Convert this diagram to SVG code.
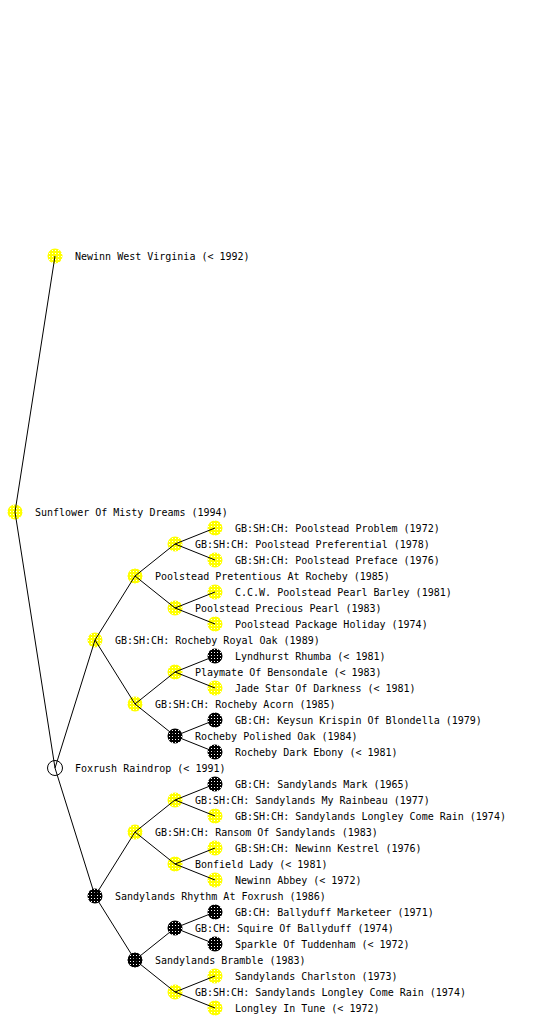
<svg xmlns="http://www.w3.org/2000/svg" width="560" height="1024" viewBox="0 0 560 1024">
<defs>
<pattern id="dy" width="3" height="3" patternUnits="userSpaceOnUse"><rect width="3" height="3" fill="#ffff00"/><rect x="1" y="1" width="1" height="1" fill="#ffffff"/></pattern>
<pattern id="db" width="3" height="3" patternUnits="userSpaceOnUse"><rect width="3" height="3" fill="#000000"/><rect x="1" y="1" width="1" height="1" fill="#ffffff"/></pattern>
<style>
text{font-family:"DejaVu Sans Mono","Liberation Mono",monospace;font-size:10px;fill:#000}
.y{fill:url(#dy)}
.b{fill:url(#db)}
.w{fill:#fff;stroke:#000;stroke-width:1}
.e line{stroke:#000;stroke-width:1}
</style>
</defs>
<rect width="560" height="1024" fill="#fff"/>
<g id="n1"><circle class="y" cx="55" cy="256" r="7.5"/><text x="75" y="260">Newinn West Virginia (&lt; 1992)</text></g>
<g id="n2"><circle class="y" cx="15" cy="512" r="7.5"/><text x="35" y="516">Sunflower Of Misty Dreams (1994)</text></g>
<g id="n3"><circle class="w" cx="55" cy="768" r="7.5"/><text x="75" y="772">Foxrush Raindrop (&lt; 1991)</text></g>
<g id="n4"><circle class="y" cx="95" cy="640" r="7.5"/><text x="115" y="644">GB:SH:CH: Rocheby Royal Oak (1989)</text></g>
<g id="n5"><circle class="b" cx="95" cy="896" r="7.5"/><text x="115" y="900">Sandylands Rhythm At Foxrush (1986)</text></g>
<g id="n6"><circle class="y" cx="135" cy="576" r="7.5"/><text x="155" y="580">Poolstead Pretentious At Rocheby (1985)</text></g>
<g id="n7"><circle class="y" cx="135" cy="704" r="7.5"/><text x="155" y="708">GB:SH:CH: Rocheby Acorn (1985)</text></g>
<g id="n8"><circle class="y" cx="135" cy="832" r="7.5"/><text x="155" y="836">GB:SH:CH: Ransom Of Sandylands (1983)</text></g>
<g id="n9"><circle class="b" cx="135" cy="960" r="7.5"/><text x="155" y="964">Sandylands Bramble (1983)</text></g>
<g id="n10"><circle class="y" cx="175" cy="544" r="7.5"/><text x="195" y="548">GB:SH:CH: Poolstead Preferential (1978)</text></g>
<g id="n11"><circle class="y" cx="175" cy="608" r="7.5"/><text x="195" y="612">Poolstead Precious Pearl (1983)</text></g>
<g id="n12"><circle class="y" cx="175" cy="672" r="7.5"/><text x="195" y="676">Playmate Of Bensondale (&lt; 1983)</text></g>
<g id="n13"><circle class="b" cx="175" cy="736" r="7.5"/><text x="195" y="740">Rocheby Polished Oak (1984)</text></g>
<g id="n14"><circle class="y" cx="175" cy="800" r="7.5"/><text x="195" y="804">GB:SH:CH: Sandylands My Rainbeau (1977)</text></g>
<g id="n15"><circle class="y" cx="175" cy="864" r="7.5"/><text x="195" y="868">Bonfield Lady (&lt; 1981)</text></g>
<g id="n16"><circle class="b" cx="175" cy="928" r="7.5"/><text x="195" y="932">GB:CH: Squire Of Ballyduff (1974)</text></g>
<g id="n17"><circle class="y" cx="175" cy="992" r="7.5"/><text x="195" y="996">GB:SH:CH: Sandylands Longley Come Rain (1974)</text></g>
<g id="n18"><circle class="y" cx="215" cy="528" r="7.5"/><text x="235" y="532">GB:SH:CH: Poolstead Problem (1972)</text></g>
<g id="n19"><circle class="y" cx="215" cy="560" r="7.5"/><text x="235" y="564">GB:SH:CH: Poolstead Preface (1976)</text></g>
<g id="n20"><circle class="y" cx="215" cy="592" r="7.5"/><text x="235" y="596">C.C.W. Poolstead Pearl Barley (1981)</text></g>
<g id="n21"><circle class="y" cx="215" cy="624" r="7.5"/><text x="235" y="628">Poolstead Package Holiday (1974)</text></g>
<g id="n22"><circle class="b" cx="215" cy="656" r="7.5"/><text x="235" y="660">Lyndhurst Rhumba (&lt; 1981)</text></g>
<g id="n23"><circle class="y" cx="215" cy="688" r="7.5"/><text x="235" y="692">Jade Star Of Darkness (&lt; 1981)</text></g>
<g id="n24"><circle class="b" cx="215" cy="720" r="7.5"/><text x="235" y="724">GB:CH: Keysun Krispin Of Blondella (1979)</text></g>
<g id="n25"><circle class="b" cx="215" cy="752" r="7.5"/><text x="235" y="756">Rocheby Dark Ebony (&lt; 1981)</text></g>
<g id="n26"><circle class="b" cx="215" cy="784" r="7.5"/><text x="235" y="788">GB:CH: Sandylands Mark (1965)</text></g>
<g id="n27"><circle class="y" cx="215" cy="816" r="7.5"/><text x="235" y="820">GB:SH:CH: Sandylands Longley Come Rain (1974)</text></g>
<g id="n28"><circle class="y" cx="215" cy="848" r="7.5"/><text x="235" y="852">GB:SH:CH: Newinn Kestrel (1976)</text></g>
<g id="n29"><circle class="y" cx="215" cy="880" r="7.5"/><text x="235" y="884">Newinn Abbey (&lt; 1972)</text></g>
<g id="n30"><circle class="b" cx="215" cy="912" r="7.5"/><text x="235" y="916">GB:CH: Ballyduff Marketeer (1971)</text></g>
<g id="n31"><circle class="b" cx="215" cy="944" r="7.5"/><text x="235" y="948">Sparkle Of Tuddenham (&lt; 1972)</text></g>
<g id="n32"><circle class="y" cx="215" cy="976" r="7.5"/><text x="235" y="980">Sandylands Charlston (1973)</text></g>
<g id="n33"><circle class="y" cx="215" cy="1008" r="7.5"/><text x="235" y="1012">Longley In Tune (&lt; 1972)</text></g>
<g id="connectors" class="e">
<line x1="15" y1="512" x2="55" y2="256"/>
<line x1="15" y1="512" x2="55" y2="768"/>
<line x1="55" y1="768" x2="95" y2="640"/>
<line x1="55" y1="768" x2="95" y2="896"/>
<line x1="95" y1="640" x2="135" y2="576"/>
<line x1="95" y1="640" x2="135" y2="704"/>
<line x1="95" y1="896" x2="135" y2="832"/>
<line x1="95" y1="896" x2="135" y2="960"/>
<line x1="135" y1="576" x2="175" y2="544"/>
<line x1="135" y1="576" x2="175" y2="608"/>
<line x1="135" y1="704" x2="175" y2="672"/>
<line x1="135" y1="704" x2="175" y2="736"/>
<line x1="135" y1="832" x2="175" y2="800"/>
<line x1="135" y1="832" x2="175" y2="864"/>
<line x1="135" y1="960" x2="175" y2="928"/>
<line x1="135" y1="960" x2="175" y2="992"/>
<line x1="175" y1="544" x2="215" y2="528"/>
<line x1="175" y1="544" x2="215" y2="560"/>
<line x1="175" y1="608" x2="215" y2="592"/>
<line x1="175" y1="608" x2="215" y2="624"/>
<line x1="175" y1="672" x2="215" y2="656"/>
<line x1="175" y1="672" x2="215" y2="688"/>
<line x1="175" y1="736" x2="215" y2="720"/>
<line x1="175" y1="736" x2="215" y2="752"/>
<line x1="175" y1="800" x2="215" y2="784"/>
<line x1="175" y1="800" x2="215" y2="816"/>
<line x1="175" y1="864" x2="215" y2="848"/>
<line x1="175" y1="864" x2="215" y2="880"/>
<line x1="175" y1="928" x2="215" y2="912"/>
<line x1="175" y1="928" x2="215" y2="944"/>
<line x1="175" y1="992" x2="215" y2="976"/>
<line x1="175" y1="992" x2="215" y2="1008"/>
</g>
</svg>
